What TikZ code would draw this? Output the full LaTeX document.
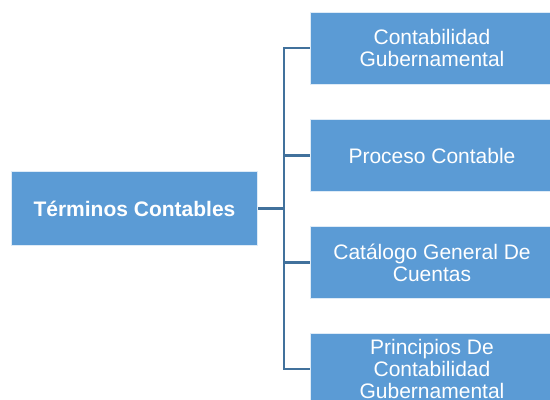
\documentclass[tikz,border=0pt]{standalone}
\usepackage{fontspec}
\setmainfont{Liberation Sans}
\usepackage{tikz}
\definecolor{boxblue}{RGB}{91,155,213}
\definecolor{linkblue}{RGB}{65,113,156}

\begin{document}
\begin{tikzpicture}[x=0.75pt,y=0.75pt,yscale=-1,xscale=1,
    termbox/.style={fill=boxblue, draw=white!80!boxblue, line width=0.6pt, text=white,
        align=center, inner sep=2pt, font=\fontsize{15.75}{16.5}\selectfont},
    rootbox/.style={termbox, minimum width=185pt, minimum height=55pt, font=\fontsize{15.75}{16.5}\selectfont\bfseries},
    leafbox/.style={termbox, minimum width=183pt, minimum height=54pt},
    link/.style={draw=linkblue, line width=1.9pt}]
    %set diagram to 550 x 400
    \useasboundingbox (0,0) rectangle (550,400);
    \clip (0,0) rectangle (550,400);

    %Shape: Rectangle [id:root]
    \node[rootbox] (terminos) at (134.5,208.5) {Términos Contables};
    %Shape: Rectangle [id:leaf1]
    \node[leafbox] (contgub) at (432,48) {Contabilidad\\Gubernamental};
    %Shape: Rectangle [id:leaf2]
    \node[leafbox] (proceso) at (432,155.5) {Proceso Contable};
    %Shape: Rectangle [id:leaf3]
    \node[leafbox] (catalogo) at (432,262.5) {Catálogo General De\\Cuentas};
    %Shape: Rectangle [id:leaf4]
    \node[leafbox] (principios) at (432,369) {Principios De\\Contabilidad\\Gubernamental};

    %Straight Lines [id:trunk]
    \coordinate (trunk) at (284,208.5);
    \draw[link] (terminos.east) -- (trunk);
    \draw[link] (trunk) |- (contgub.west);
    \draw[link] (trunk) |- (proceso.west);
    \draw[link] (trunk) |- (catalogo.west);
    \draw[link] (trunk) |- (principios.west);
\end{tikzpicture}
\end{document}
